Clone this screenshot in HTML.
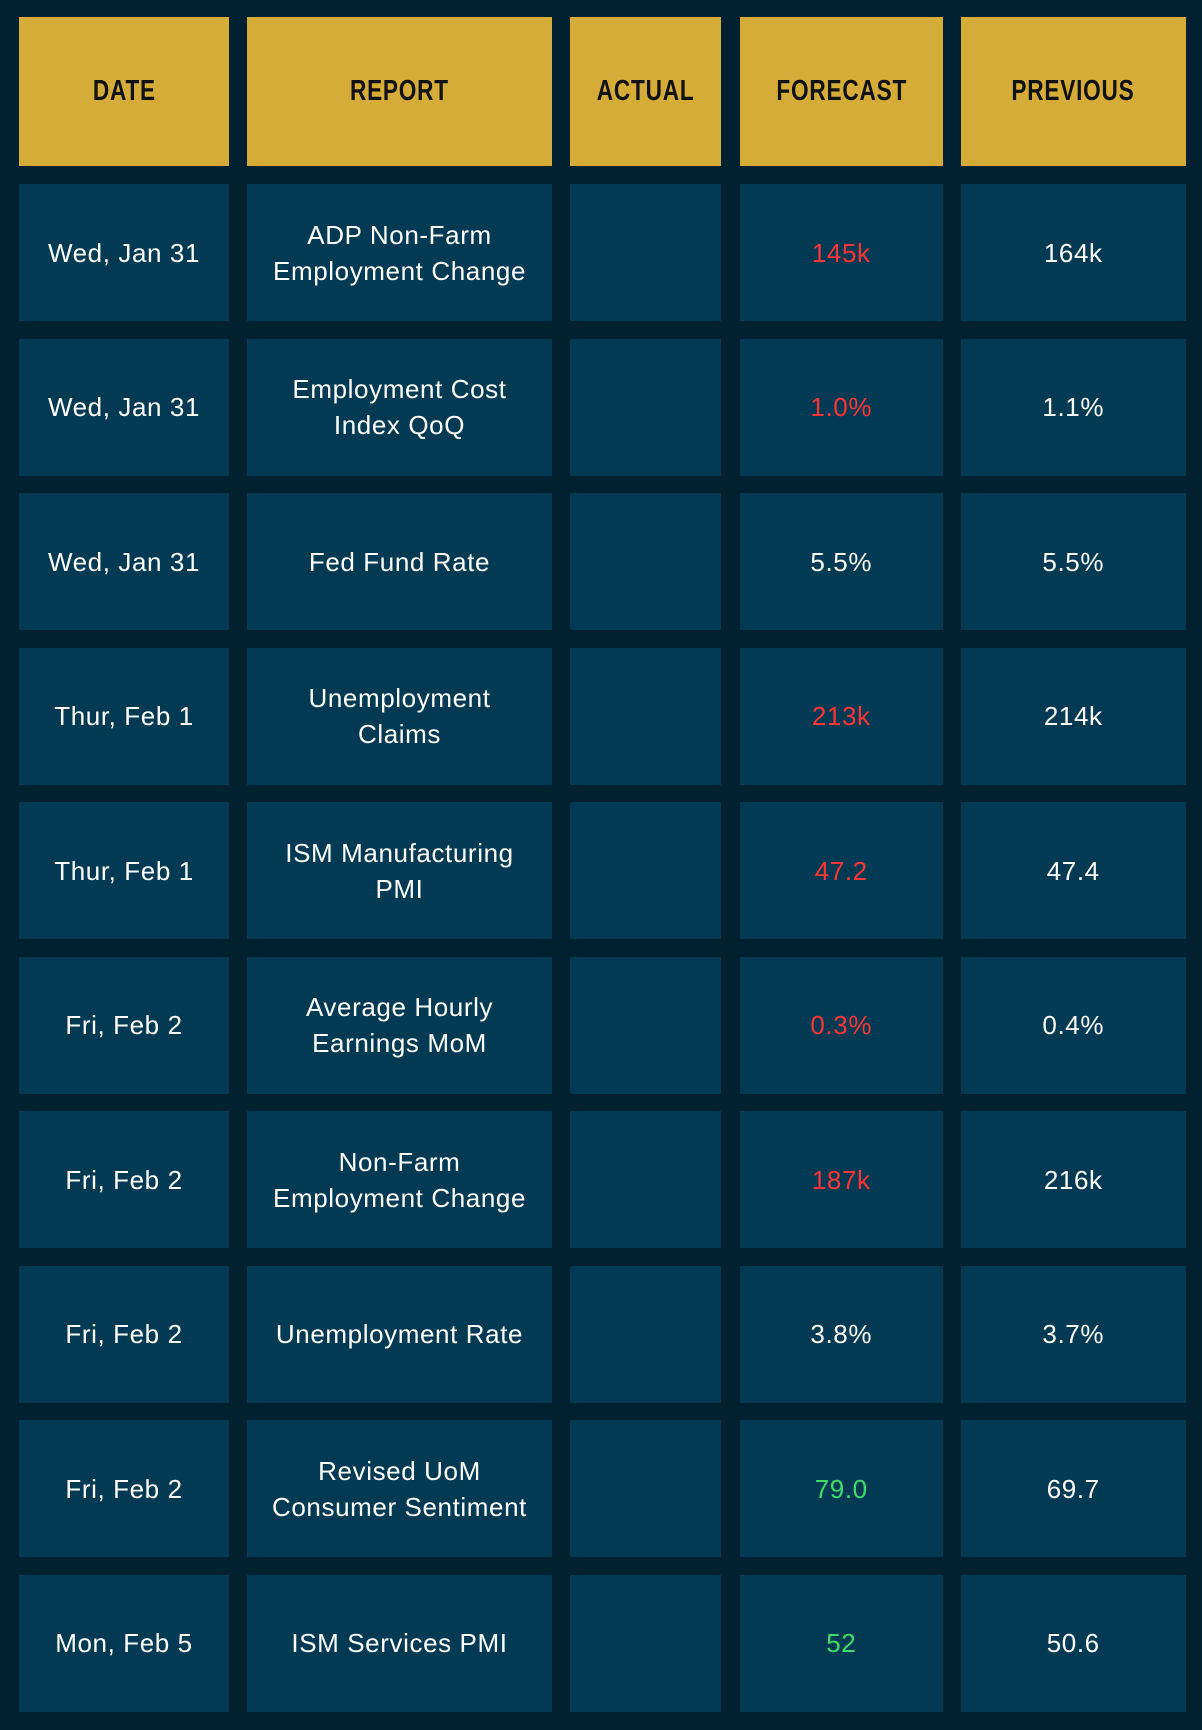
<!DOCTYPE html>
<html><head><meta charset="utf-8"><style>
html,body{margin:0;padding:0;background:#012131;}
body{width:1202px;height:1730px;position:relative;overflow:hidden;font-family:"Liberation Sans","DejaVu Sans",sans-serif;}
.c{position:absolute;display:flex;align-items:center;justify-content:center;text-align:center;background:#023a54;color:#fff;font-size:26px;line-height:36px;letter-spacing:0.6px;box-sizing:border-box;}
.h{background:#d4ac37;color:#111;font-weight:bold;font-size:29px;letter-spacing:1px;}
.h span{display:inline-block;transform:scaleX(0.78);}
.r{color:#ff3535}.g{color:#3fdc6a}
</style></head><body>
<div id="t"></div>
<script>
var X=[[19,229],[247,552],[570,721],[739.5,943],[961,1185.5]];
var H=["DATE","REPORT","ACTUAL","FORECAST","PREVIOUS"];
var D=[["Wed, Jan 31","ADP Non-Farm<br>Employment Change","","145k","164k","r"],
["Wed, Jan 31","Employment Cost<br>Index QoQ","","1.0%","1.1%","r"],
["Wed, Jan 31","Fed Fund Rate","","5.5%","5.5%",""],
["Thur, Feb 1","Unemployment<br>Claims","","213k","214k","r"],
["Thur, Feb 1","ISM Manufacturing<br>PMI","","47.2","47.4","r"],
["Fri, Feb 2","Average Hourly<br>Earnings MoM","","0.3%","0.4%","r"],
["Fri, Feb 2","Non-Farm<br>Employment Change","","187k","216k","r"],
["Fri, Feb 2","Unemployment Rate","","3.8%","3.7%",""],
["Fri, Feb 2","Revised UoM<br>Consumer Sentiment","","79.0","69.7","g"],
["Mon, Feb 5","ISM Services PMI","","52","50.6","g"]];
var s="";
function cell(x,y,h,cls,txt){s+='<div class="c '+cls+'" style="left:'+x[0]+'px;top:'+y+'px;width:'+(x[1]-x[0])+'px;height:'+h+'px">'+txt+'</div>';}
for(var i=0;i<5;i++)cell(X[i],16.5,149.5,"h","<span>"+H[i]+"</span>");
for(var r=0;r<10;r++){var y=184+r*154.5;for(var i=0;i<5;i++)cell(X[i],y,137,i==3?D[r][5]:"",D[r][i]);}
document.getElementById("t").innerHTML=s;
</script>
</body></html>
